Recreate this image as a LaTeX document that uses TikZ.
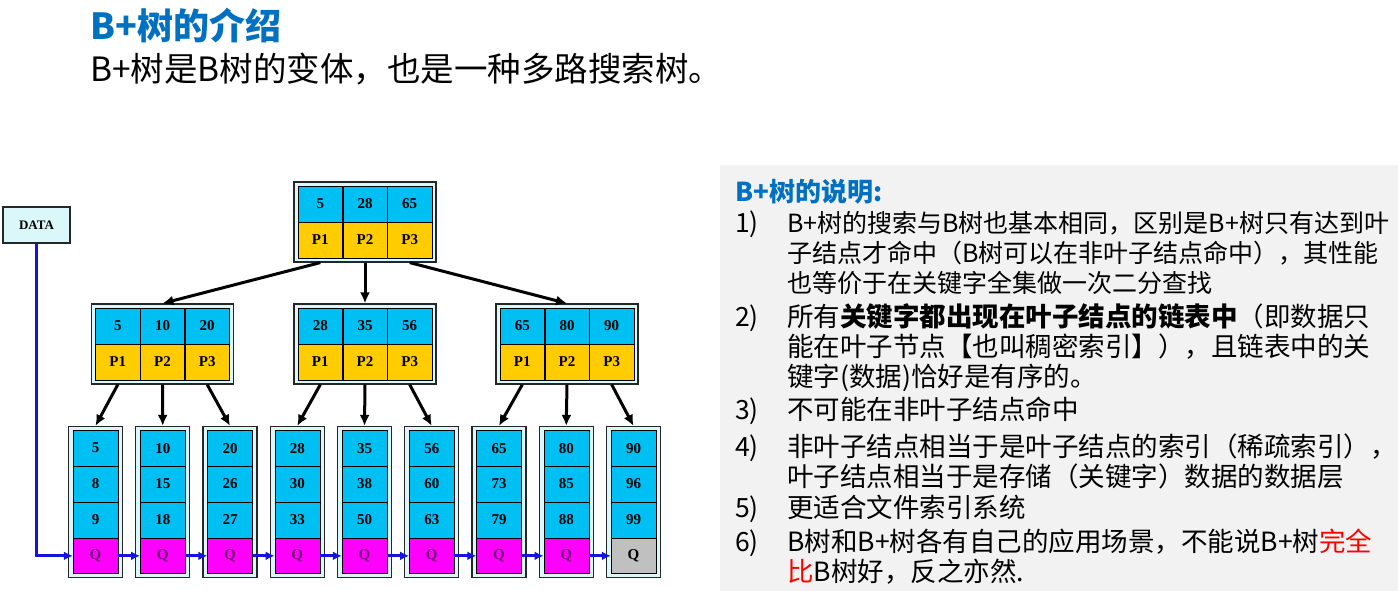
\documentclass[tikz,border=0pt]{standalone}
\usepackage{fontspec}
\setmainfont{Noto Sans CJK SC}
\newfontfamily\treefont{Liberation Serif}
\usetikzlibrary{positioning,arrows.meta}

\definecolor{keycyan}{RGB}{0,191,243}
\definecolor{ptryellow}{RGB}{255,204,0}
\definecolor{qmagenta}{RGB}{255,0,255}
\definecolor{qgrey}{RGB}{192,192,192}
\definecolor{qpurple}{RGB}{110,0,110}
\definecolor{framecyan}{RGB}{218,248,250}
\definecolor{linkblue}{RGB}{20,20,225}
\definecolor{titleblue}{RGB}{0,112,192}
\definecolor{panelgrey}{RGB}{242,242,242}

\newcommand{\bodysize}{\fontsize{26.5}{30}\selectfont}
\newcommand{\cellfont}{\treefont\bfseries\fontsize{15}{15}\selectfont}

\tikzset{
  keycell/.style={draw=black, fill=keycyan, minimum width=44.3pt, minimum height=35.5pt, inner sep=0pt, font=\cellfont},
  ptrcell/.style={keycell, fill=ptryellow},
  frame/.style={draw=black!85, fill=framecyan, line width=1.2pt, inner sep=0pt},
  treearrow/.style={-{Latex[length=11pt,width=10pt]}, line width=3pt},
  linkarrow/.style={-{Latex[length=9pt,width=9pt]}, line width=3pt, draw=linkblue},
  txt/.style={anchor=base west, inner sep=0pt, font=\bodysize},
}

% three keys over three pointers
\newcommand{\bnode}[5]{%
  \node[frame, minimum width=142pt, minimum height=80pt] (#1) at #2 {};
  \node[keycell, anchor=south] (#1-k2) at (#1.center) {#4};
  \node[ptrcell, anchor=north] (#1-p2) at (#1.center) {P2};
  \node[keycell, left=0pt of #1-k2] (#1-k1) {#3};
  \node[keycell, right=0pt of #1-k2] (#1-k3) {#5};
  \node[ptrcell, left=0pt of #1-p2] (#1-p1) {P1};
  \node[ptrcell, right=0pt of #1-p2] (#1-p3) {P3};
}

\begin{document}
\begin{tikzpicture}[x=1pt,y=-1pt]
\useasboundingbox (0,0) rectangle (1398,591);

\node[anchor=base west, inner sep=0pt, text=titleblue, font=\fontsize{36}{40}\selectfont\bfseries] (title) at (90,40) {B+树的介绍};
\node[anchor=base west, inner sep=0pt, font=\fontsize{33.5}{36}\selectfont] (intro) at (90,82) {B+树是B树的变体，也是一种多路搜索树。};

% the tree
\bnode{r}{(365,222)}{5}{28}{65}
\bnode{n1}{(162.5,344)}{5}{10}{20}
\bnode{n2}{(365,344)}{28}{35}{56}
\bnode{n3}{(567,344)}{65}{80}{90}

\foreach \i/\a/\b/\c/\qf/\qt in {1/5/8/9/qmagenta/qpurple, 2/10/15/18/qmagenta/qpurple, 3/20/26/27/qmagenta/qpurple,
    4/28/30/33/qmagenta/qpurple, 5/35/38/50/qmagenta/qpurple, 6/56/60/63/qmagenta/qpurple,
    7/65/73/79/qmagenta/qpurple, 8/80/85/88/qmagenta/qpurple, 9/90/96/99/qgrey/black} {
  \pgfmathsetmacro{\lx}{95.5+67.25*(\i-1)}
  \node[frame, minimum width=54pt, minimum height=151pt] (l\i) at (\lx,502) {};
  \node[keycell, minimum width=45pt, anchor=south] (l\i-k2) at (l\i.center) {\b};
  \node[keycell, minimum width=45pt, above=0pt of l\i-k2] (l\i-k1) {\a};
  \node[keycell, minimum width=45pt, anchor=north] (l\i-k3) at (l\i.center) {\c};
  \node[keycell, minimum width=45pt, fill=\qf, text=\qt, below=0pt of l\i-k3] (l\i-q) {Q};
}

\foreach \k in {1,2,3}
  \draw[treearrow] (r-p\k.south |- r.south) -- (n\k.north);
\foreach \k in {1,2,3}
  \foreach \m in {1,2,3} {
    \pgfmathtruncatemacro{\leaf}{3*(\k-1)+\m}
    \draw[treearrow] (n\k-p\m.south |- n\k.south) -- (l\leaf.north);
  }

\node[frame, minimum width=67pt, minimum height=36pt, font=\treefont\bfseries\fontsize{13}{13}\selectfont] (data) at (36.5,225) {DATA};
\draw[linkarrow] (data.south) |- (l1-q.west);
\foreach \i [evaluate=\i as \j using int(\i+1)] in {1,...,8}
  \draw[linkarrow] (l\i-q.east) -- (l\j-q.west);

% notes on the right
\node[fill=panelgrey, anchor=north west, minimum width=678pt, minimum height=426pt, inner sep=0pt] (panel) at (720,165) {};
\node[txt, text=titleblue, font=\fontsize{26}{30}\selectfont\bfseries] (head) at (735,201) {B+树的说明:};

\node[txt] (i1) at (735,232.5) {1)};
\node[txt, font=\fontsize{25}{30}\selectfont] (t1a) at (787,232.5) {B+树的搜索与B树也基本相同，区别是B+树只有达到叶};
\node[txt, font=\fontsize{25}{30}\selectfont] (t1b) at (787,262.5) {子结点才命中（B树可以在非叶子结点命中），其性能};
\node[txt, font=\fontsize{25}{30}\selectfont] (t1c) at (787,292.5) {也等价于在关键字全集做一次二分查找};
\node[txt] (i2) at (735,326.5) {2)};
\node[txt] (t2a) at (787,326.5) {所有\textbf{关键字都出现在叶子结点的链表中}（即数据只};
\node[txt] (t2b) at (787,356.5) {能在叶子节点【也叫稠密索引】），且链表中的关};
\node[txt] (t2c) at (787,386.5) {键字(数据)恰好是有序的。};
\node[txt] (i3) at (735,419.5) {3)};
\node[txt] (t3) at (787,419.5) {不可能在非叶子结点命中};
\node[txt] (i4) at (735,456.5) {4)};
\node[txt] (t4a) at (787,456.5) {非叶子结点相当于是叶子结点的索引（稀疏索引），};
\node[txt] (t4b) at (787,486.5) {叶子结点相当于是存储（关键字）数据的数据层};
\node[txt] (i5) at (735,517.5) {5)};
\node[txt] (t5) at (787,517.5) {更适合文件索引系统};
\node[txt] (i6) at (735,551.5) {6)};
\node[txt] (t6a) at (787,551.5) {B树和B+树各有自己的应用场景，不能说B+树\textcolor{red}{完全}};
\node[txt] (t6b) at (787,581.5) {\textcolor{red}{比}B树好，反之亦然.};
\end{tikzpicture}
\end{document}
